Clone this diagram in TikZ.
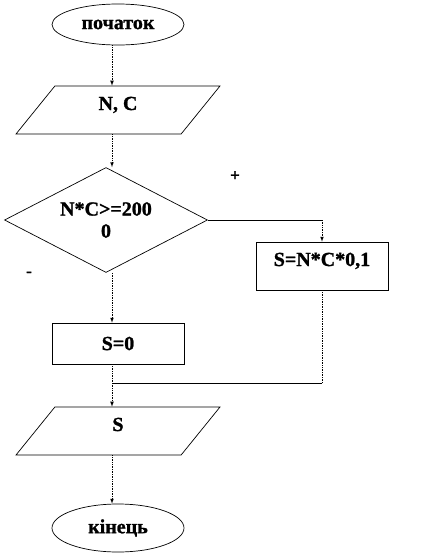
\documentclass[tikz,border=0pt]{standalone}
\usepackage{fontspec}
\setmainfont[BoldFeatures={FakeBold=1.2}]{Liberation Serif}
\usetikzlibrary{shapes.geometric, positioning, arrows}

\tikzset{
  term/.style={ellipse, draw, line width=0.7pt, minimum width=132pt, inner sep=0pt},
  io/.style={trapezium, draw, line width=0.7pt, trapezium left angle=51, trapezium right angle=129,
    trapezium stretches body, minimum width=204pt, inner sep=0pt, text height=24pt, text depth=24pt},
  proc/.style={rectangle, draw, line width=0.7pt, minimum width=132pt, inner sep=0pt},
  decision/.style={diamond, draw, line width=0.7pt, minimum width=203pt, minimum height=105pt,
    aspect=2, inner sep=0pt, align=center},
  flow/.style={densely dotted, line width=0.7pt, ->, >=latex},
  vline/.style={densely dotted, line width=0.7pt},
  hline/.style={line width=0.7pt},
  lbl/.style={font=\fontsize{17}{17}\selectfont\bfseries}
}

\begin{document}
\begin{tikzpicture}[on grid, font=\fontsize{20}{22}\selectfont\bfseries]
    \useasboundingbox (-118pt,24.5pt) rectangle (306pt,-530.5pt);

    \node[term, minimum height=41pt] (start) {початок};
    \coordinate[left=6pt of start] (spine);
    \node[io] (in1) [below=85.5pt of start] {N, C};
    \node[decision] (test) [below left=110pt and 12pt of in1] {N*C>=200\\0};
    \node[proc, minimum height=48pt, text height=24pt, text depth=24pt] (calc)
        [below right=46pt and 216pt of test] {S=N*C*0,1};
    \node[proc, minimum height=41pt] (zero) [below right=123.5pt and 12pt of test] {S=0};
    \coordinate[below left=39.5pt and 6pt of zero] (join);
    \node[io] (out) [below=87.5pt of zero] {S};
    \node[term, minimum height=48pt] (fin) [below=97pt of out] {кінець};

    \node[lbl] (yes) [above right=44pt and 129pt of test] {+};
    \node[lbl] (no) [below left=54pt and 77pt of test] {-};

    % main line
    \draw[flow] (start.south -| spine) -- (in1.north -| spine);
    \draw[flow] (in1.south -| spine) -- (test.north -| spine);
    % branches
    \draw[hline] (test.east) -- (test.east -| calc.north);
    \draw[flow] (test.east -| calc.north) -- (calc.north);
    \draw[flow] (test.south -| spine) -- (zero.north -| spine);
    \draw[vline] (zero.south -| spine) -- (join);
    \draw[vline] (calc.south) -- (calc.south |- join);
    \draw[hline] (calc.south |- join) -- (join);
    \draw[flow] (join) -- (out.north -| spine);
    \draw[flow] (out.south -| spine) -- (fin.north -| spine);
\end{tikzpicture}
\end{document}
